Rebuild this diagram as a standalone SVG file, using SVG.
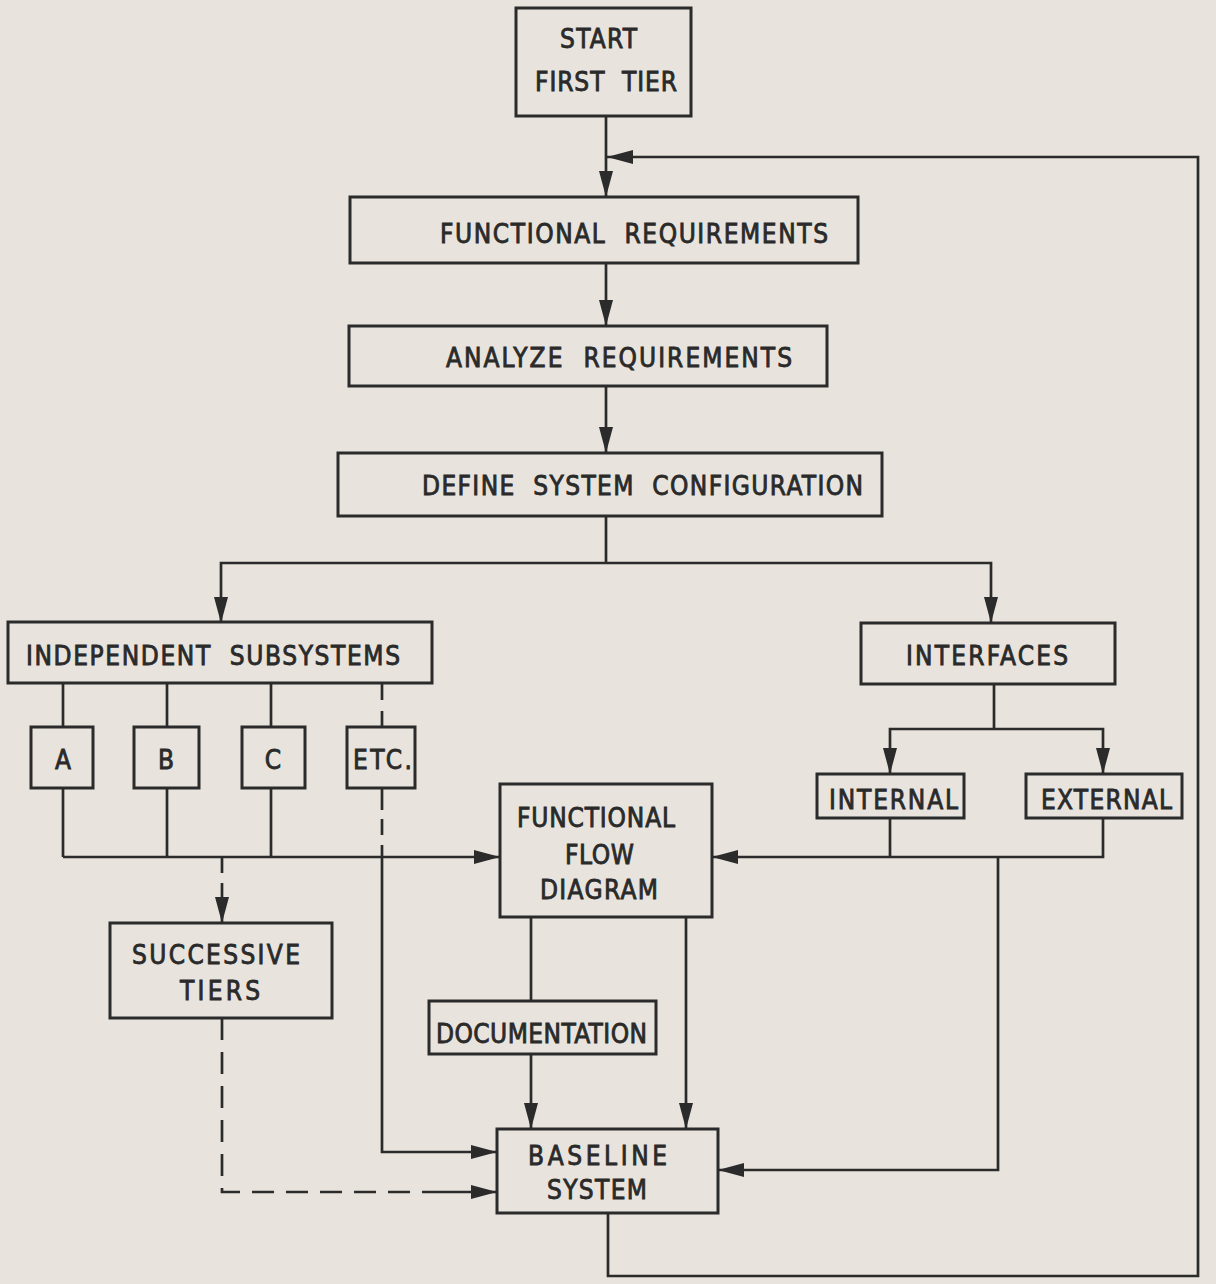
<svg xmlns="http://www.w3.org/2000/svg" width="1216" height="1284" viewBox="0 0 1216 1284">
  <defs>
    <marker id="arrow" markerUnits="userSpaceOnUse" markerWidth="26" markerHeight="16" refX="26" refY="8" orient="auto" viewBox="0 0 26 16">
      <path d="M0,1 L26,8 L0,15 Z" fill="#2b2b2b"/>
    </marker>
    <style>
      .box { fill: none; stroke: #2b2b2b; stroke-width: 3; }
      .lbl { font-family: "Liberation Sans Narrow", "DejaVu Sans Condensed", "Liberation Sans", Arial, sans-serif; font-size: 26px; fill: #2a2a2a; stroke: #2a2a2a; stroke-width: 0.8; white-space: pre; }
      .mid { text-anchor: middle; }
      .ln { fill: none; stroke: #2b2b2b; stroke-width: 2.7; }
      .arr { marker-end: url(#arrow); }
      .dash { stroke-dasharray: 22 12; }
    </style>
  </defs>

  <rect x="0" y="0" width="1216" height="1284" fill="#e8e4dd"/>

  <!-- connectors -->
  <g id="connectors">
    <!-- main spine -->
    <path class="ln arr" d="M606,116 V197"/>
    <path class="ln arr" d="M606,263 V326"/>
    <path class="ln arr" d="M606,386 V453"/>
    <!-- split to subsystems / interfaces -->
    <path class="ln" d="M606,516 V563"/>
    <path class="ln arr" d="M606,563 H221 V623"/>
    <path class="ln arr" d="M606,563 H991 V623"/>
    <!-- subsystems to A, B, C, ETC. -->
    <path class="ln" d="M63,683 V727"/>
    <path class="ln" d="M167,683 V727"/>
    <path class="ln" d="M271,683 V727"/>
    <path class="ln" d="M382,683 V727" style="stroke-dasharray:17 11"/>
    <!-- A, B, C into functional flow diagram -->
    <path class="ln" d="M63,788 V857"/>
    <path class="ln" d="M167,788 V857"/>
    <path class="ln" d="M271,788 V857"/>
    <path class="ln arr" d="M63,857 H500"/>
    <!-- ETC. into baseline system -->
    <path class="ln" d="M382,789 V845" style="stroke-dasharray:21 9 16 10"/>
    <path class="ln arr" d="M382,845 V1152 H497"/>
    <!-- successive tiers -->
    <path class="ln" d="M222,857 V883" style="stroke-dasharray:16 26"/>
    <path class="ln arr" d="M222,883 V923"/>
    <path class="ln dash" d="M222,1018 V1192 H440"/>
    <path class="ln arr" d="M440,1192 H497"/>
    <!-- interfaces to internal / external -->
    <path class="ln" d="M994,684 V729"/>
    <path class="ln arr" d="M994,729 H890 V774"/>
    <path class="ln arr" d="M994,729 H1103 V774"/>
    <path class="ln" d="M890,818 V857"/>
    <path class="ln arr" d="M1103,818 V857 H712"/>
    <path class="ln arr" d="M998,857 V1170 H718"/>
    <!-- functional flow diagram to documentation and baseline -->
    <path class="ln" d="M531,917 V1001"/>
    <path class="ln arr" d="M686,917 V1129"/>
    <path class="ln arr" d="M531,1054 V1129"/>
    <!-- feedback loop to next tier -->
    <path class="ln arr" d="M608,1213 V1276 H1198 V157 H607"/>
  </g>

  <g id="start">
    <rect class="box" x="516" y="8" width="175" height="108"/>
    <text class="lbl" x="560" y="48" textLength="77" lengthAdjust="spacing">START</text>
    <text class="lbl" x="535" y="91" textLength="142" lengthAdjust="spacing">FIRST  TIER</text>
  </g>

  <g id="functional-requirements">
    <rect class="box" x="350" y="197" width="508" height="66"/>
    <text class="lbl" x="440" y="243" textLength="388" lengthAdjust="spacing">FUNCTIONAL  REQUIREMENTS</text>
  </g>

  <g id="analyze-requirements">
    <rect class="box" x="349" y="326" width="478" height="60"/>
    <text class="lbl" x="446" y="367" textLength="346" lengthAdjust="spacing">ANALYZE  REQUIREMENTS</text>
  </g>

  <g id="define-configuration">
    <rect class="box" x="338" y="453" width="544" height="63"/>
    <text class="lbl" x="422" y="495" textLength="441" lengthAdjust="spacing">DEFINE  SYSTEM  CONFIGURATION</text>
  </g>

  <g id="independent-subsystems">
    <rect class="box" x="8" y="622" width="424" height="61"/>
    <text class="lbl" x="26" y="665" textLength="374" lengthAdjust="spacing">INDEPENDENT  SUBSYSTEMS</text>
  </g>

  <g id="interfaces">
    <rect class="box" x="861" y="623" width="254" height="61"/>
    <text class="lbl" x="906" y="665" textLength="162" lengthAdjust="spacing">INTERFACES</text>
  </g>

  <g id="sub-a">
    <rect class="box" x="31" y="727" width="62" height="61"/>
    <text class="lbl mid" x="63" y="769">A</text>
  </g>
  <g id="sub-b">
    <rect class="box" x="134" y="727" width="65" height="61"/>
    <text class="lbl mid" x="166" y="769">B</text>
  </g>
  <g id="sub-c">
    <rect class="box" x="242" y="727" width="63" height="61"/>
    <text class="lbl mid" x="273" y="769">C</text>
  </g>
  <g id="sub-etc">
    <rect class="box" x="347" y="727" width="68" height="61"/>
    <text class="lbl" x="353" y="769" textLength="59" lengthAdjust="spacing">ETC.</text>
  </g>

  <g id="internal">
    <rect class="box" x="817" y="774" width="147" height="44"/>
    <text class="lbl" x="829" y="809" textLength="129" lengthAdjust="spacing">INTERNAL</text>
  </g>
  <g id="external">
    <rect class="box" x="1026" y="774" width="156" height="44"/>
    <text class="lbl" x="1041" y="809" textLength="131" lengthAdjust="spacing">EXTERNAL</text>
  </g>

  <g id="functional-flow-diagram">
    <rect class="box" x="500" y="784" width="212" height="133"/>
    <text class="lbl" x="517" y="827" textLength="158" lengthAdjust="spacing">FUNCTIONAL</text>
    <text class="lbl" x="565" y="864" textLength="69" lengthAdjust="spacing">FLOW</text>
    <text class="lbl" x="540" y="899" textLength="118" lengthAdjust="spacing">DIAGRAM</text>
  </g>

  <g id="successive-tiers">
    <rect class="box" x="110" y="923" width="222" height="95"/>
    <text class="lbl" x="132" y="964" textLength="168" lengthAdjust="spacing">SUCCESSIVE</text>
    <text class="lbl" x="180" y="1000" textLength="80" lengthAdjust="spacing">TIERS</text>
  </g>

  <g id="documentation">
    <rect class="box" x="429" y="1001" width="227" height="53"/>
    <text class="lbl" x="436" y="1043" textLength="211" lengthAdjust="spacing">DOCUMENTATION</text>
  </g>

  <g id="baseline-system">
    <rect class="box" x="497" y="1129" width="221" height="84"/>
    <text class="lbl" x="528" y="1165" textLength="139" lengthAdjust="spacing">BASELINE</text>
    <text class="lbl" x="547" y="1199" textLength="100" lengthAdjust="spacing">SYSTEM</text>
  </g>
</svg>
